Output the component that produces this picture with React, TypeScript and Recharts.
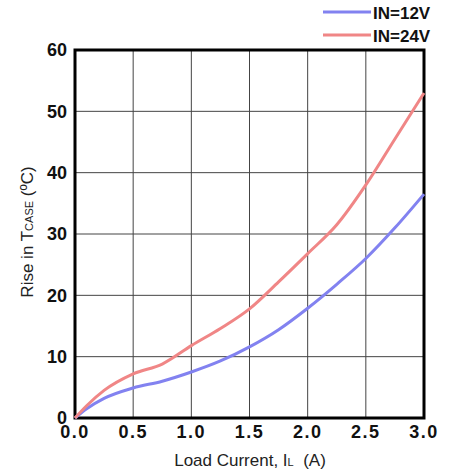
import { CartesianGrid, Line, LineChart, ReferenceArea, XAxis, YAxis } from "recharts";

const current = [0, 0.1, 0.25, 0.5, 0.75, 1.0, 1.25, 1.5, 1.75, 2.0, 2.25, 2.5, 2.75, 3.0];
const rise12V = [0, 1.5, 3.2, 4.9, 6.0, 7.5, 9.3, 11.6, 14.4, 17.9, 21.8, 26.0, 31.0, 36.5];
const rise24V = [0, 2.0, 4.5, 7.2, 8.8, 11.8, 14.6, 17.8, 22.2, 26.8, 31.5, 38.0, 45.5, 53.0];
const xTicks = [0, 0.5, 1.0, 1.5, 2.0, 2.5, 3.0];
const yTicks = [0, 10, 20, 30, 40, 50, 60];

const BLUE = "#8282f0";
const RED = "#f08686";
const TICK_FONT = "'Liberation Sans', Arial, sans-serif";

const data = current.map((x, i) => ({ x, v12: rise12V[i], v24: rise24V[i] }));

const series = [
  { key: "v12", name: "IN=12V", color: BLUE },
  { key: "v24", name: "IN=24V", color: RED },
];

const LegendBox = () => (
  <svg width={130} height={46} style={{ position: "absolute", left: 323, top: 0 }}>
    {series.map((s, i) => (
      <g key={s.key} transform={`translate(0, ${12 + i * 23})`}>
        <line x1={0} x2={48} y1={0} y2={0} stroke={s.color} strokeWidth={3} />
        <text x={50} y={6.5} fontFamily={TICK_FONT} fontWeight={700} fontSize={17} fill="#111">
          {s.name}
        </text>
      </g>
    ))}
  </svg>
);

const YLabel = () => (
  <text
    transform="translate(33, 232) rotate(-90)"
    textAnchor="middle"
    fontFamily="'Liberation Sans', Arial, sans-serif"
    fontSize={17}
    fill="#222"
  >
    Rise in T<tspan fontSize={11}>CASE</tspan> (ºC)
  </text>
);

const XLabel = () => (
  <text x={250} y={466} textAnchor="middle" fontFamily="'Liberation Sans', Arial, sans-serif" fontSize={17} fill="#222">
    Load Current, I<tspan fontSize={11}>L</tspan>{"\u00a0\u00a0(A)"}
  </text>
);

export default function App() {
  return (
    <div style={{ position: "absolute", left: 0, top: 0, width: 453, height: 473, background: "#fff" }}>
      <LineChart width={453} height={473} data={data} margin={{ top: 50, right: 29, bottom: 25, left: 35 }}>
        <CartesianGrid stroke="#444" strokeWidth={1} horizontal vertical />
        <XAxis
          dataKey="x"
          type="number"
          domain={[0, 3]}
          ticks={xTicks}
          tickFormatter={(v: number) => v.toFixed(1)}
          height={30}
          axisLine={false}
          tickLine={false}
          tickMargin={1}
          tick={{ fontFamily: TICK_FONT, fontWeight: 700, fontSize: 18, fill: "#111", letterSpacing: 1.5 }}
          label={<XLabel />}
        />
        <YAxis
          type="number"
          domain={[0, 60]}
          ticks={yTicks}
          width={40}
          axisLine={false}
          tickLine={false}
          tick={{ fontFamily: TICK_FONT, fontWeight: 700, fontSize: 18, fill: "#111" }}
          label={<YLabel />}
        />
        <ReferenceArea x1={0} x2={3} y1={0} y2={60} fill="none" stroke="#000" strokeWidth={3} ifOverflow="visible" />
        {series.map((s) => (
          <Line
            key={s.key}
            dataKey={s.key}
            name={s.name}
            type="monotone"
            stroke={s.color}
            strokeWidth={3}
            dot={false}
            isAnimationActive={false}
          />
        ))}
      </LineChart>
      <LegendBox />
    </div>
  );
}
